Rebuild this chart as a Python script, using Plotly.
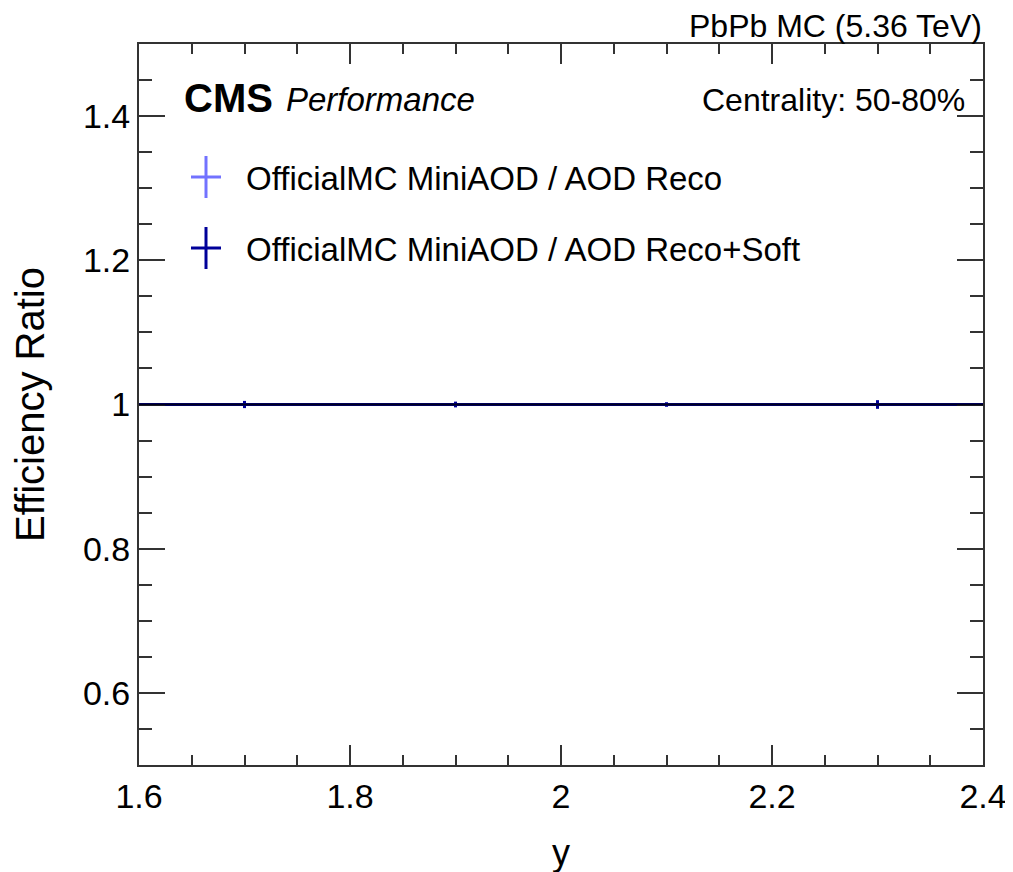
import plotly.graph_objects as go

# Data
y_bins = [1.7, 1.9, 2.1, 2.3]
bin_half_width = [0.1, 0.1, 0.1, 0.1]
ratio_reco = [1.0, 1.0, 1.0, 1.0]
ratio_reco_err = [0.004, 0.003, 0.003, 0.005]
ratio_soft = [1.0, 1.0, 1.0, 1.0]
ratio_soft_err = [0.005, 0.004, 0.003, 0.006]
series_names = ["OfficialMC MiniAOD / AOD Reco", "OfficialMC MiniAOD / AOD Reco+Soft"]
x_ticks = [1.6, 1.8, 2.0, 2.2, 2.4]
x_tick_labels = ["1.6", "1.8", "2", "2.2", "2.4"]
y_ticks = [0.6, 0.8, 1.0, 1.2, 1.4]
y_tick_labels = ["0.6", "0.8", "1", "1.2", "1.4"]

light = "#7272ff"
navy = "#000099"
FONT = "Liberation Sans, Arial, sans-serif"

# plot-area geometry (pixels in the final picture) used to place paper-coord texts
PL, PR, PT, PB = 138, 982, 44, 765
PW, PH = PR - PL, PB - PT

def px(x):
    return (x - PL) / PW

def py(y):
    return (PB - y) / PH

fig = go.Figure()

for vals, errs, col, name in [(ratio_reco, ratio_reco_err, light, series_names[0]),
                              (ratio_soft, ratio_soft_err, navy, series_names[1])]:
    fig.add_trace(go.Scatter(
        x=y_bins, y=vals, mode="markers", name=name,
        marker=dict(size=1, color=col, opacity=0),
        error_x=dict(type="data", array=bin_half_width, color=col, thickness=3, width=0),
        error_y=dict(type="data", array=errs, color=col, thickness=3, width=0),
        showlegend=False,
    ))

# reference line at 1
fig.add_shape(type="line", xref="x", yref="y", x0=1.6, x1=2.4, y0=1.0, y1=1.0,
              line=dict(color="#00001a", width=2), layer="above")

fig.update_layout(
    width=1013, height=872,
    margin=dict(l=131, r=38, t=36, b=115),
    paper_bgcolor="white", plot_bgcolor="white",
    font=dict(family=FONT, color="black"),
    showlegend=False,
)

fig.update_xaxes(
    range=[1.6, 2.4], tickvals=x_ticks, ticktext=x_tick_labels,
    ticks="inside", ticklen=20, tickwidth=2, tickcolor="#333333",
    showline=True, linecolor="#333333", linewidth=2, mirror="allticks",
    showgrid=False, zeroline=False,
    tickfont=dict(size=34, family=FONT, color="black"),
    minor=dict(dtick=0.05, ticks="inside", ticklen=10, tickwidth=2, tickcolor="#333333", showgrid=False),
    title=dict(text="y", font=dict(size=36, family=FONT, color="black"), standoff=26),
)
fig.update_yaxes(
    range=[0.5, 1.5], tickvals=y_ticks, ticktext=y_tick_labels,
    ticks="inside", ticklen=26, tickwidth=2, tickcolor="#333333",
    showline=True, linecolor="#333333", linewidth=2, mirror="allticks",
    showgrid=False, zeroline=False,
    tickfont=dict(size=34, family=FONT, color="black"),
    minor=dict(dtick=0.05, ticks="inside", ticklen=13, tickwidth=2, tickcolor="#333333", showgrid=False),
    title=dict(text="Efficiency Ratio", font=dict(size=40, family=FONT, color="black"), standoff=28),
)

# Texts
fig.add_annotation(xref="paper", yref="paper", x=1.0, y=1.0, xanchor="right", yanchor="bottom",
                   yshift=-1, borderpad=0, showarrow=False, text="PbPb MC (5.36 TeV)",
                   font=dict(size=32, family=FONT, color="black"))
fig.add_annotation(xref="paper", yref="paper", x=px(181), y=py(98),
                   xanchor="left", yanchor="middle", showarrow=False,
                   text="<b>CMS</b>", font=dict(size=40, family=FONT, color="black"))
fig.add_annotation(xref="paper", yref="paper", x=px(283), y=py(100),
                   xanchor="left", yanchor="middle", showarrow=False,
                   text="<i>Performance</i>", font=dict(size=33, family=FONT, color="black"))
fig.add_annotation(xref="paper", yref="paper", x=px(966), y=py(100),
                   xanchor="right", yanchor="middle", showarrow=False,
                   text="Centrality: 50-80%", font=dict(size=32, family=FONT, color="black"))

# Manual legend
for i, (name, col) in enumerate(zip(series_names, [light, navy])):
    cy = 177 + i * 71
    cx = 205
    fig.add_shape(type="line", xref="paper", yref="paper",
                  x0=px(cx - 15), x1=px(cx + 15), y0=py(cy), y1=py(cy),
                  line=dict(color=col, width=3))
    fig.add_shape(type="line", xref="paper", yref="paper",
                  x0=px(cx), x1=px(cx), y0=py(cy + 21), y1=py(cy - 21),
                  line=dict(color=col, width=3))
    fig.add_annotation(xref="paper", yref="paper", x=px(243), y=py(cy + 1),
                       xanchor="left", yanchor="middle", showarrow=False, text=name,
                       font=dict(size=33, family=FONT, color="black"))

fig.write_html("out.html")
